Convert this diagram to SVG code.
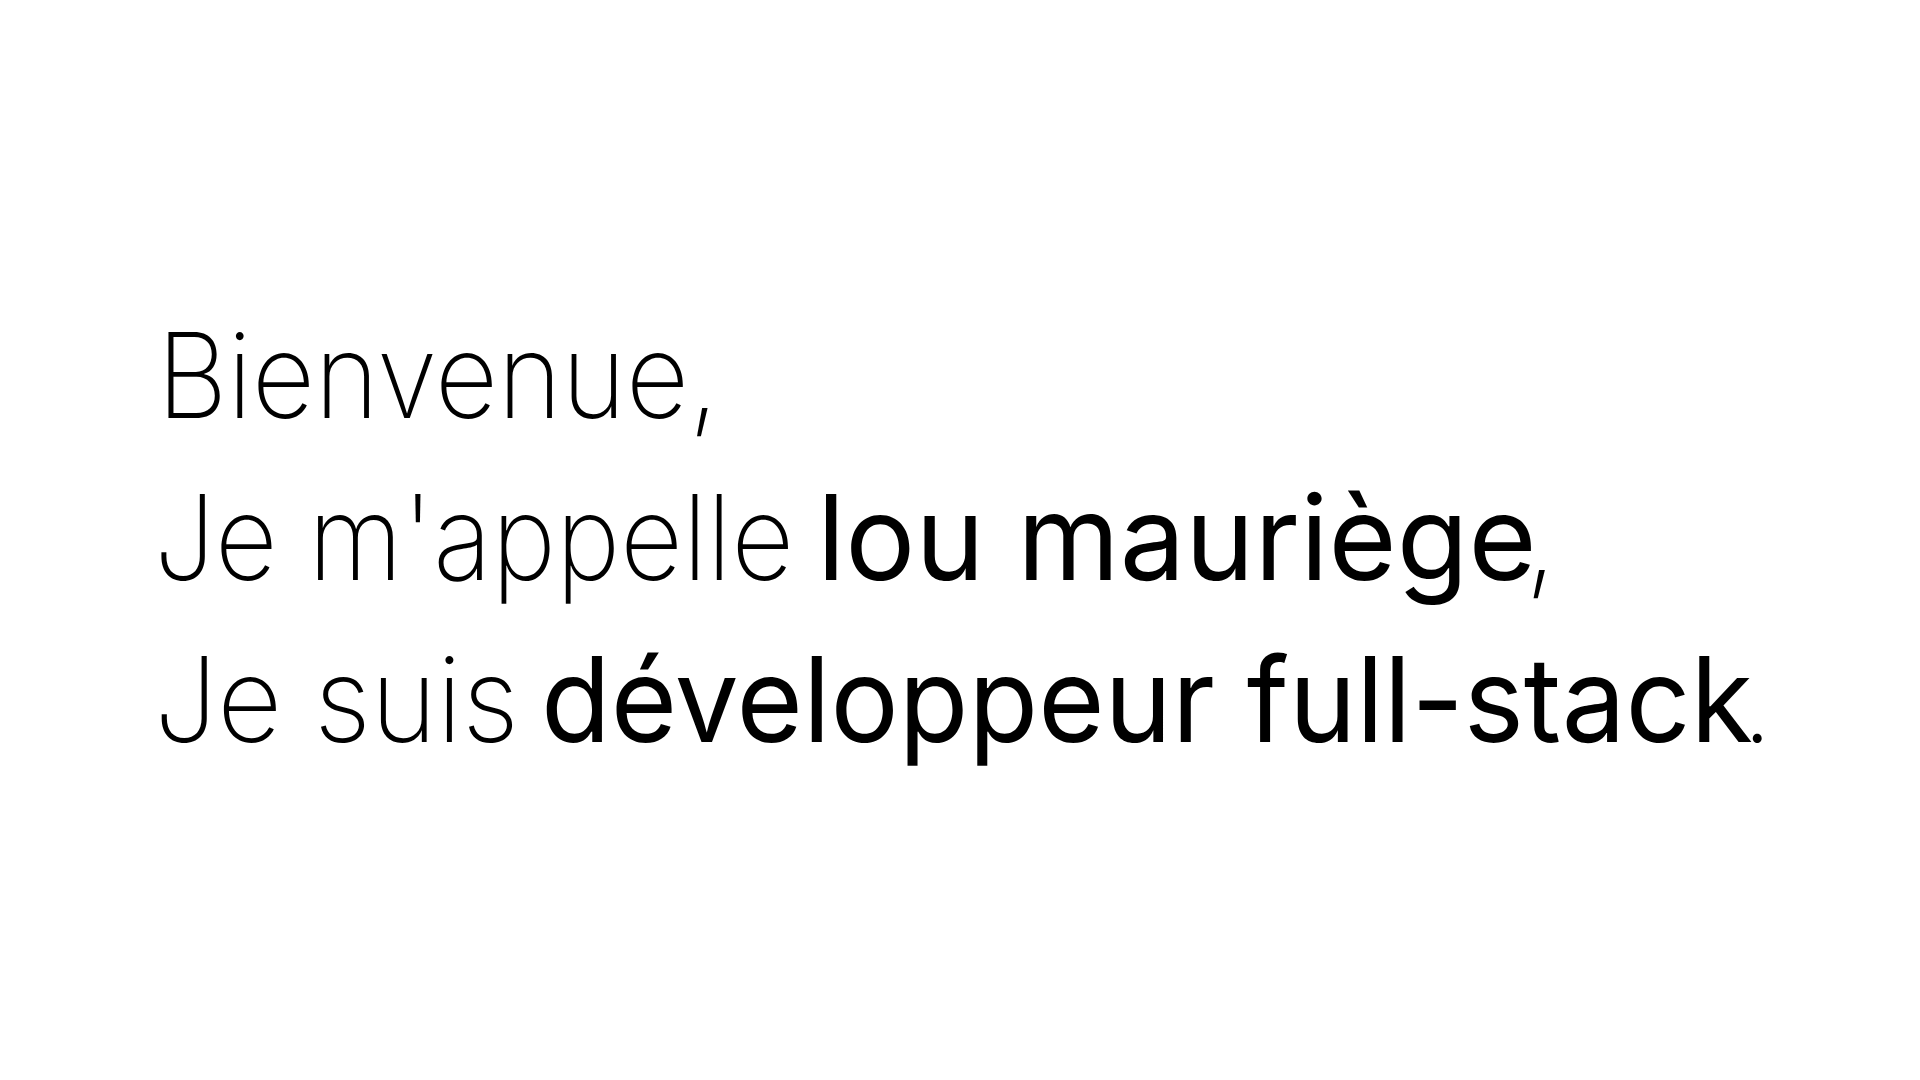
<svg xmlns="http://www.w3.org/2000/svg" width="1920" height="1080" viewBox="0 0 1920 1080">
<style>
.t{font-family:Inter,"Helvetica Neue","Liberation Sans",sans-serif;font-size:118px;fill:#000}
.l{font-weight:200}
.b{font-weight:400}
</style>
<rect width="1920" height="1080" fill="#fff"/>
<g id="line1">
<text class="t l" x="157" y="418" textLength="562" lengthAdjust="spacingAndGlyphs">Bienvenue,</text>
</g>
<g id="line2">
<text class="t l" x="154" y="580" textLength="640" lengthAdjust="spacingAndGlyphs">Je m'appelle</text>
<text class="t" x="817" y="580" textLength="740" lengthAdjust="spacingAndGlyphs"><tspan class="b">lou mauriège</tspan><tspan class="l" dx="-12">,</tspan></text>
</g>
<g id="line3">
<text class="t l" x="154" y="742" textLength="365" lengthAdjust="spacingAndGlyphs">Je suis</text>
<text class="t" x="541" y="742" textLength="1232" lengthAdjust="spacingAndGlyphs"><tspan class="b">développeur full-stack</tspan><tspan class="l" dx="-12">.</tspan></text>
</g>
</svg>
